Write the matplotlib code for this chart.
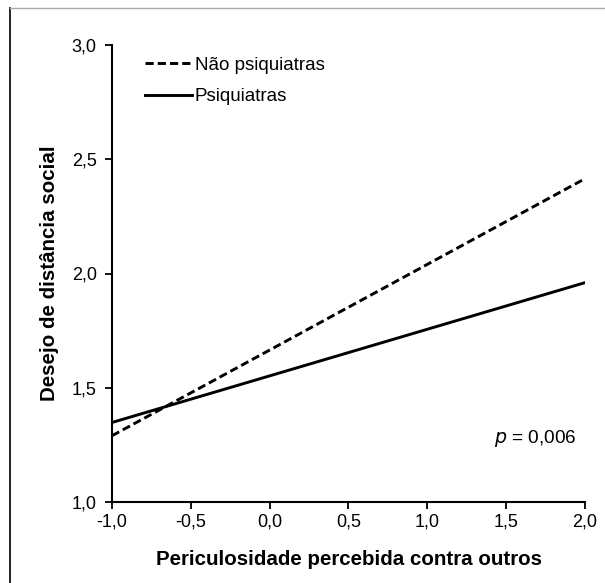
import matplotlib
matplotlib.use("Agg")
import matplotlib.pyplot as plt
from matplotlib.lines import Line2D

plt.rcParams['font.family'] = ['Liberation Sans', 'DejaVu Sans']

x_vals = [-1.0, 2.0]
nao_psiq = [1.29, 2.415]
psiq = [1.348, 1.96]
xticks = [-1.0, -0.5, 0.0, 0.5, 1.0, 1.5, 2.0]
xticklabels = ['-1,0', '-0,5', '0,0', '0,5', '1,0', '1,5', '2,0']
yticks = [1.0, 1.5, 2.0, 2.5, 3.0]
yticklabels = ['1,0', '1,5', '2,0', '2,5', '3,0']

fig = plt.figure(figsize=(6.05, 5.83), dpi=100)
ax = fig.add_axes([112/605, 1-502/583, (585-112)/605, (502-45)/583])

ax.plot(x_vals, nao_psiq, color='black', lw=2.1, ls=(0, (2.8, 1.4)), label='Não psiquiatras')
ax.plot(x_vals, psiq, color='black', lw=2.1, ls='-', label='Psiquiatras')

ax.set_xlim(-1.0, 2.0)
ax.set_ylim(1.0, 3.0)
ax.set_xticks(xticks)
ax.set_xticklabels(xticklabels)
ax.set_yticks(yticks)
ax.set_yticklabels(yticklabels)
ax.tick_params(axis='both', direction='out', length=5, width=1.3, labelsize=13, colors='black')
ax.tick_params(axis='x', pad=3)
ax.tick_params(axis='y', pad=6)
for s in ['top', 'right']:
    ax.spines[s].set_visible(False)
for s in ['left', 'bottom']:
    ax.spines[s].set_linewidth(1.5)

ax.set_xlabel('Periculosidade percebida contra outros', fontsize=14.8, fontweight='bold', labelpad=14)
ax.set_ylabel('Desejo de distância social', fontsize=14.8, fontweight='bold', labelpad=9)

leg = ax.legend(loc='upper left', bbox_to_anchor=(0.07, 0.975), frameon=False, fontsize=13.5,
                handlelength=2.5, handletextpad=0.15, labelspacing=0.77, borderaxespad=0,
                borderpad=0)

ax.text(0.983, 0.14, r'$\it{p}$ = 0,006', transform=ax.transAxes, ha='right', va='center', fontsize=13.7)

# outer frame fragments
fig.add_artist(Line2D([10/605, 10/605], [0, 1-8/583], transform=fig.transFigure, color='black', lw=1.2))
fig.add_artist(Line2D([10/605, 1], [1-8/583, 1-8/583], transform=fig.transFigure, color='#aaaaaa', lw=1.0))

fig.savefig('out.png', dpi=100)
